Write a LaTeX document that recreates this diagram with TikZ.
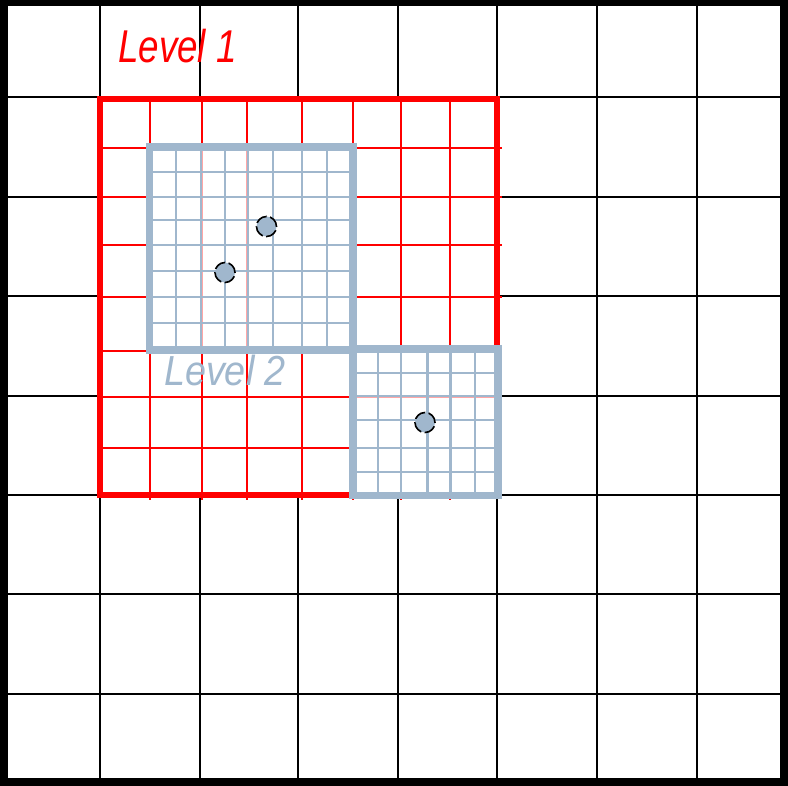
\documentclass[tikz,border=0pt]{standalone}
\usepackage{fontspec}
\usepackage{graphicx}
\newfontfamily\lblfont{Liberation Sans}
\definecolor{lvlblue}{RGB}{160,183,205}
\begin{document}
\begin{tikzpicture}[x=1pt,y=-1pt,
 blackgrid/.style={line width=2pt, black},
 outerframe/.style={line width=8pt, black},
 redfine/.style={line width=1.7pt, red},
 redframe/.style={line width=6pt, red},
 blueframe/.style={line width=7.5pt, lvlblue},
 bluefine/.style={line width=2.3pt, lvlblue},
 veil/.style={fill=white, opacity=0.65},
 dotnode/.style={circle, fill=lvlblue, draw=black, line width=1.6pt, dash pattern=on 12pt off 3.5pt, minimum size=20pt, inner sep=0pt},
 lbl/.style={inner sep=0pt}]
\useasboundingbox (0,0) rectangle (788,786);
\fill[white] (0,0) rectangle (788,786);
% black coarse grid
\foreach \x in {100,199.5,298,398,497,597,697} \draw[blackgrid] (\x,5) -- (\x,780);
\foreach \y in {97.5,197,296,396,495,594,694} \draw[blackgrid] (8,\y) -- (783,\y);
\draw[outerframe] (4,2.5) rectangle (784,782);
% level 1 (red)
\fill[white] (99.7,99.3) rectangle (497,495.5);
\foreach \x in {150,202,247,302,353,401,450} \draw[redfine] (\x,100) -- (\x,500);
\foreach \y in {148,197,245,297,351,397,448} \draw[redfine] (103,\y) -- (502,\y);
\draw[redframe] (99.7,99.3) rectangle (497,495.5);
% level 2, box A
\fill[veil] (149.5,147) rectangle (353,350);
\foreach \x in {176,201,225,248,273,302,327} \draw[bluefine] (\x,147) -- (\x,350);
\foreach \y in {172,197,220,245,271,297,323} \draw[bluefine] (149.5,\y) -- (353,\y);
\draw[blueframe] (149.5,147) rectangle (353,350);
% level 2, box B
\fill[veil] (352.8,349) rectangle (498,495.5);
\foreach \x in {378,401,427.5,450.5,475} \draw[bluefine] (\x,349) -- (\x,495.5);
\foreach \y in {373,396,420,448,472} \draw[bluefine] (352.8,\y) -- (498,\y);
\draw[blueframe] (352.8,349) rectangle (498,495.5);
% points
\node[dotnode] (d1) at (266.5,226.5) {};
\node[dotnode] (d2) at (225,272.5) {};
\node[dotnode] (d3) at (425,422.5) {};
% labels
\node[lbl, text=red, font=\lblfont\itshape\fontsize{46}{46}\selectfont] (l1) at (177.5,46.5) {\scalebox{0.8}[1]{Level 1}};
\node[lbl, text=lvlblue, font=\lblfont\itshape\fontsize{42}{42}\selectfont] (l2) at (225,370) {\scalebox{0.9}[1]{Level 2}};
\end{tikzpicture}
\end{document}
